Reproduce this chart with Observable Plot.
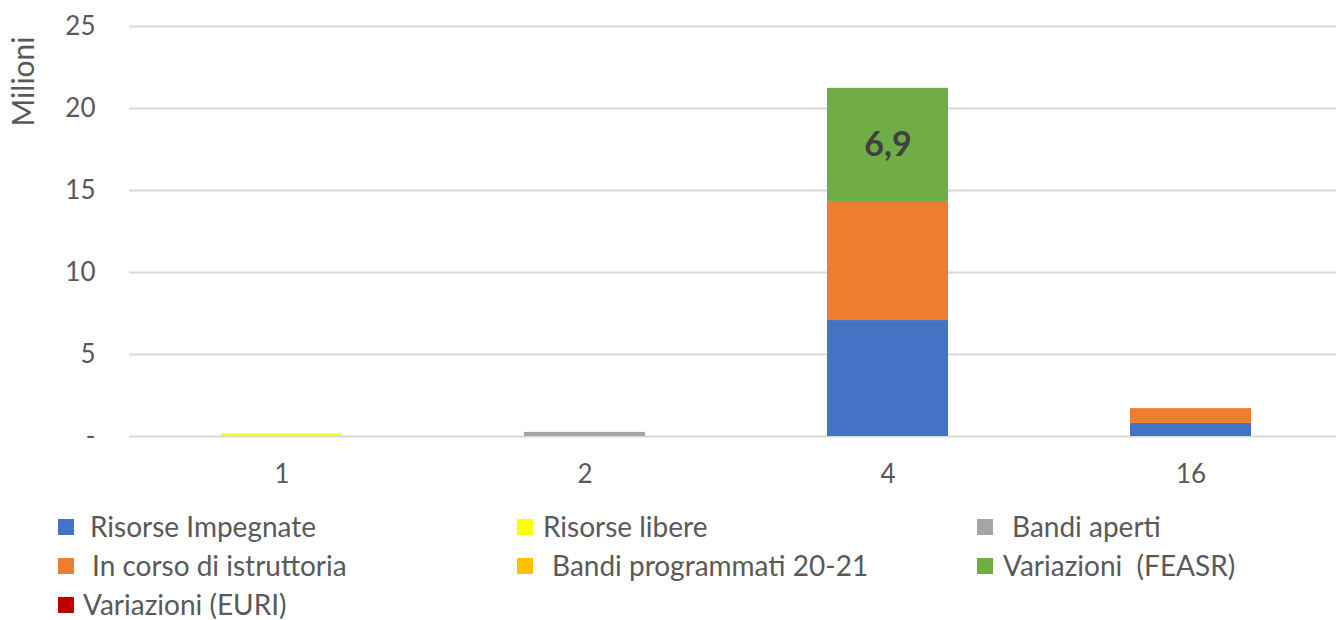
<!DOCTYPE html>
<html>
<head>
<meta charset="utf-8">
<script src="https://cdn.jsdelivr.net/npm/d3@7"></script>
<script src="https://cdn.jsdelivr.net/npm/@observablehq/plot@0.6"></script>
<style>
  body { margin: 0; background: #fff; font-family: Lato, sans-serif; overflow: hidden; }
  #chart { position: relative; width: 1336px; height: 500px; overflow: hidden; }
  #legend { position: relative; width: 1336px; height: 120px; }
  .sw { position: absolute; width: 16px; height: 16px; }
  .txt { position: absolute; font-size: 28px; line-height: 32px; color: #595959; white-space: pre; }
</style>
</head>
<body>
<div id="chart"></div>
<div id="legend"></div>
<script>
const categories = ["1", "2", "4", "16"];
const seriesNames = ["Risorse Impegnate", "Risorse libere", "Bandi aperti", "In corso di istruttoria", "Bandi programmati 20-21", "Variazioni  (FEASR)", "Variazioni (EURI)"];
const seriesColors = ["#4472C4", "#FFFF00", "#A5A5A5", "#ED7D31", "#FFC000", "#70AD47", "#C00000"];
const risorseImpegnate = [0, 0, 7.07, 0.8];
const risorseLibere = [0.15, 0, 0, 0];
const bandiAperti = [0, 0.25, 0, 0];
const inCorso = [0, 0, 7.26, 0.9];
const bandiProgrammati = [0, 0, 0, 0];
const variazioniFeasr = [0, 0, 6.9, 0];
const variazioniEuri = [0, 0, 0, 0];
const yTicks = [0, 5, 10, 15, 20, 25];
const labelText = "6,9";

const allSeries = [risorseImpegnate, risorseLibere, bandiAperti, inCorso, bandiProgrammati, variazioniFeasr, variazioniEuri];
const data = [];
allSeries.forEach((vals, si) => {
  vals.forEach((v, ci) => data.push({cat: categories[ci], series: seriesNames[si], value: v}));
});
const labelData = [{cat: "4", y: risorseImpegnate[2] + inCorso[2] + variazioniFeasr[2] / 2, text: labelText}];

const chart = Plot.plot({
  width: 1336,
  height: 500,
  marginLeft: 129,
  marginRight: -7,
  marginTop: 26,
  marginBottom: 64,
  style: {fontFamily: "Lato, sans-serif", fontSize: "26px", color: "#595959", background: "#fff", overflow: "visible"},
  x: {domain: categories, paddingInner: 0.6, paddingOuter: 0.3, label: null, tickSize: 0, tickPadding: 28},
  y: {domain: [0, 25], ticks: yTicks, label: null, tickSize: 0, tickPadding: 34,
      tickFormat: d => d === 0 ? "-" : String(d)},
  color: {domain: seriesNames, range: seriesColors},
  marks: [
    Plot.gridY(yTicks, {stroke: "#d9d9d9", strokeOpacity: 1, strokeWidth: 2}),
    Plot.barY(data, {x: "cat", y: "value", fill: "series", order: seriesNames}),
    Plot.text(labelData, {x: "cat", y: "y", text: "text", fontSize: 34, fontWeight: "bold", fill: "#404040"}),
    Plot.text(["Milioni"], {frameAnchor: "top-left", dx: -105, dy: 55, rotate: -90, textAnchor: "middle", lineAnchor: "middle",
      text: d => d, fontSize: 30, fill: "#595959"})
  ]
});
document.getElementById("chart").appendChild(chart);

// legend layout: [swatch x, text x, row center y relative to legend top (500)]
const legendLayout = [[58, 90, 27], [517, 543, 27], [977, 1012, 27], [58, 92, 66], [517, 552, 66], [977, 1003, 66], [58, 83, 105]];
const leg = document.getElementById("legend");
seriesNames.forEach((name, si) => {
  const [sx, tx, cy] = legendLayout[si];
  const sw = document.createElement("div");
  sw.className = "sw";
  sw.style.left = sx + "px";
  sw.style.top = (cy - 8) + "px";
  sw.style.background = seriesColors[si];
  const t = document.createElement("div");
  t.className = "txt";
  t.style.left = tx + "px";
  t.style.top = (cy - 17) + "px";
  t.textContent = name;
  leg.appendChild(sw); leg.appendChild(t);
});
</script>
</body>
</html>
